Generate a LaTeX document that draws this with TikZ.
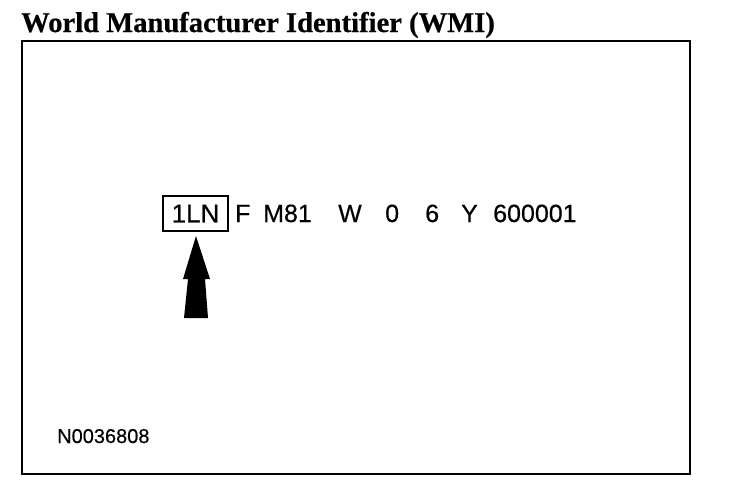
\documentclass[tikz,border=0pt]{standalone}
\usepackage{fontspec}
\setmainfont{Liberation Serif}
\setsansfont{Liberation Sans}
\newfontfamily\vinfont[FakeBold=0.4]{Liberation Sans}
\newfontfamily\titlefont[FakeBold=0.5]{Liberation Serif}
\begin{document}
\begin{tikzpicture}[x=1pt,y=-1pt,
  vin/.style={inner sep=0pt,anchor=base west,font=\vinfont\fontsize{25}{30}\selectfont},
  frameline/.style={line width=2pt}]
\useasboundingbox (0,0) rectangle (736,488);
\node[inner sep=0pt,anchor=base west,font=\titlefont\bfseries\fontsize{28.6}{32}\selectfont] (title) at (21,32) {World Manufacturer Identifier (WMI)};
\draw[frameline] (22,41) rectangle (690,474);
\node[draw,frameline,inner sep=0pt,minimum width=65pt,minimum height=35pt,font=\vinfont\fontsize{26}{30}\selectfont] (wmi) at (195.5,213.5) {1LN};
\node[vin] (f) at (235,222) {F};
\node[vin] (m) at (263,222) {M81};
\node[vin] (w) at (338,222) {W};
\node[vin] (z) at (385,222) {0};
\node[vin] (s) at (425,222) {6};
\node[vin] (y) at (461,222) {Y};
\node[vin] (num) at (493,222) {600001};
\coordinate (tip) at (196,236);
\fill (tip) -- (183,279) -- (188,279) -- (184,318) -- (208,318) -- (205,279) -- (210,279) -- cycle;
\node[inner sep=0pt,anchor=base west,font=\vinfont\fontsize{20}{24}\selectfont] (code) at (57,443) {N0036808};
\end{tikzpicture}
\end{document}
